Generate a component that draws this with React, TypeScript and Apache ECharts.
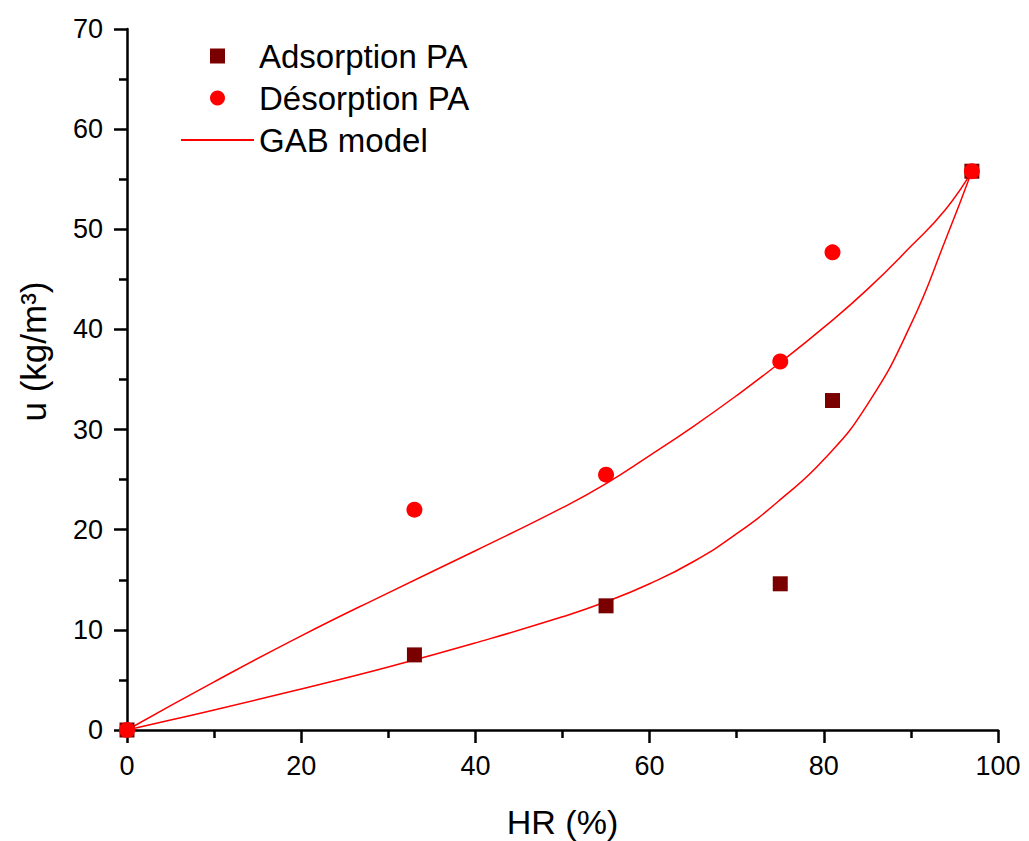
import React, { useEffect, useRef } from "react";
import * as echarts from "echarts";

// Measured points (HR %, u kg/m3)
const adsorptionHR = [0, 33, 55, 75, 81, 97];
const adsorptionU = [0, 7.5, 12.4, 14.6, 32.9, 55.8];
const desorptionHR = [0, 33, 55, 75, 81, 97];
const desorptionU = [0, 22.0, 25.5, 36.8, 47.7, 55.8];

// GAB model curves
const gabDesHR = [0, 10, 20, 30, 40, 50, 55, 60, 65, 70, 75, 80, 85, 90, 94, 97];
const gabDesU = [0, 4.8, 9.4, 13.7, 17.9, 22.2, 24.6, 27.4, 30.3, 33.4, 36.7, 40.2, 44.0, 48.3, 52.0, 55.8];
const gabAdsHR = [0, 5, 10, 20, 30, 40, 50, 55, 60, 65, 70, 75, 80, 85, 90, 94, 97];
const gabAdsU = [0, 1.0, 2.0, 4.1, 6.3, 8.7, 11.3, 12.8, 14.6, 16.8, 19.6, 23.0, 27.0, 32.5, 40.5, 49.0, 55.8];

const xTicks = [0, 20, 40, 60, 80, 100];
const yTicks = [0, 10, 20, 30, 40, 50, 60, 70];

const zip = (a: number[], b: number[]) => a.map((v, i) => [v, b[i]]);

export default function App() {
  const ref = useRef<HTMLDivElement>(null);
  useEffect(() => {
    if (!ref.current) return;
    const chart = echarts.init(ref.current, undefined, { renderer: "svg" });
    const font = "Liberation Sans, Arial, sans-serif";
    const axisCommon = {
      axisLine: { show: true, lineStyle: { color: "#000", width: 2.5 } },
      axisTick: { show: true, inside: false, length: 13, lineStyle: { color: "#000", width: 2.5 } },
      minorTick: { show: true, splitNumber: 2, length: 8, lineStyle: { color: "#000", width: 2.5 } },
      splitLine: { show: false },
      minorSplitLine: { show: false },
    };
    const squareIcon = "path://M0,0L10,0L10,10L0,10Z";
    chart.setOption({
      animation: false,
      backgroundColor: "#fff",
      grid: {
        left: 127,
        right: 31,
        top: 29,
        bottom: 111,
        containLabel: false,
        outerBoundsMode: "none",
      },
      legend: {
        orient: "vertical",
        left: 175,
        top: 34,
        itemWidth: 73,
        itemHeight: 15,
        itemGap: 8,
        symbolKeepAspect: true,
        data: [
          { name: "Adsorption PA", icon: squareIcon, itemStyle: { color: "#7a0000", opacity: 1 } },
          { name: "Désorption PA", icon: "circle", itemStyle: { color: "#ff0000", opacity: 1 } },
          { name: "GAB model", itemStyle: { color: "rgba(0,0,0,0)", borderWidth: 0 } },
        ],
        textStyle: { fontFamily: font, fontSize: 33, color: "#000", lineHeight: 34 },
      },
      xAxis: {
        type: "value",
        min: xTicks[0],
        max: xTicks[xTicks.length - 1],
        interval: 20,
        name: "HR (%)",
        nameLocation: "middle",
        nameGap: 75,
        nameTextStyle: { fontFamily: font, fontSize: 34, color: "#000" },
        axisLabel: { fontFamily: font, fontSize: 27, color: "#000", margin: 22 },
        ...axisCommon,
      },
      yAxis: {
        type: "value",
        min: yTicks[0],
        max: yTicks[yTicks.length - 1],
        interval: 10,
        name: "u (kg/m³)",
        nameLocation: "middle",
        nameGap: 76,
        nameRotate: 90,
        nameTextStyle: { fontFamily: font, fontSize: 35, color: "#000", padding: [0, 0, 0, 56] },
        axisLabel: { fontFamily: font, fontSize: 27, color: "#000", margin: 24 },
        ...axisCommon,
      },
      series: [
        {
          name: "GAB model",
          type: "line",
          data: zip(gabDesHR, gabDesU),
          smooth: 0.5,
          symbol: "none",
          lineStyle: { color: "#ff0000", width: 1.5 },
          itemStyle: { color: "#ff0000" },
          z: 1,
        },
        {
          name: "GAB model",
          type: "line",
          data: zip(gabAdsHR, gabAdsU),
          smooth: 0.5,
          symbol: "none",
          lineStyle: { color: "#ff0000", width: 1.5 },
          itemStyle: { color: "#ff0000" },
          z: 1,
        },
        {
          name: "Adsorption PA",
          type: "scatter",
          data: zip(adsorptionHR, adsorptionU),
          symbol: "rect",
          symbolSize: 15,
          itemStyle: { color: "#7a0000", opacity: 1 },
          z: 2,
        },
        {
          name: "Désorption PA",
          type: "scatter",
          data: zip(desorptionHR, desorptionU),
          symbol: "circle",
          symbolSize: 16,
          itemStyle: { color: "#ff0000", opacity: 1 },
          z: 3,
        },
      ],
    });
    return () => chart.dispose();
  }, []);
  return (
    <div
      ref={ref}
      style={{ position: "absolute", left: 0, top: 0, width: 1029, height: 841 }}
    />
  );
}
